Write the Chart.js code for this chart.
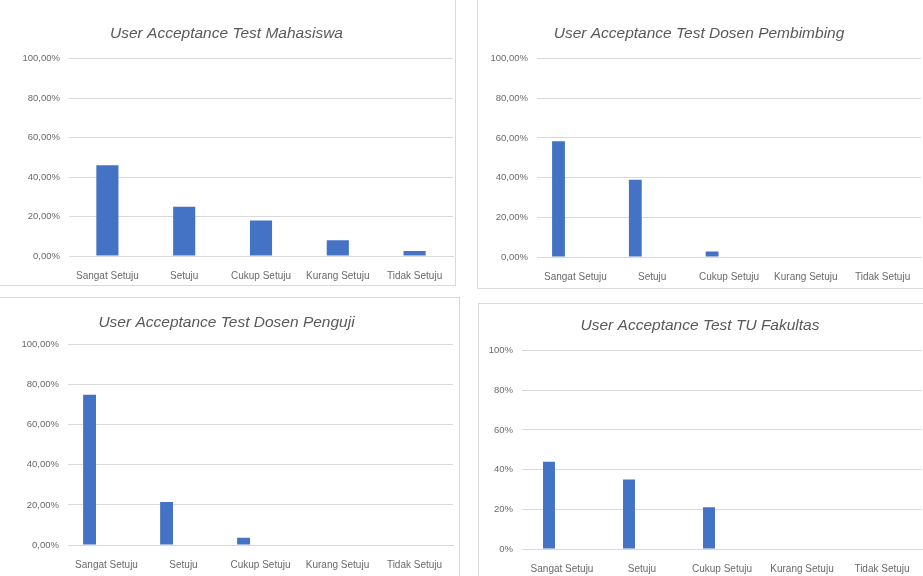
<!DOCTYPE html>
<html>
<head>
<meta charset="utf-8">
<script src="https://cdn.jsdelivr.net/npm/chart.js@4.4.1/dist/chart.umd.min.js"></script>
<style>
  body { margin: 0; background: #fff; width: 923px; height: 576px; overflow: hidden; position: relative; }
  .box { position: absolute; border: 1px solid #d9d9d9; box-sizing: border-box; }
  canvas { position: absolute; }
</style>
</head>
<body>
<div class="box" style="left:-1px;top:-1px;width:457px;height:287px;"></div>
<div class="box" style="left:477px;top:-1px;width:450px;height:290px;"></div>
<div class="box" style="left:-1px;top:297px;width:461px;height:283px;"></div>
<div class="box" style="left:478px;top:303px;width:450px;height:277px;"></div>

<canvas id="chartMahasiswa" width="456" height="286" style="left:0;top:0;"></canvas>
<canvas id="chartPembimbing" width="446" height="289" style="left:477px;top:0;"></canvas>
<canvas id="chartPenguji" width="460" height="279" style="left:0;top:297px;"></canvas>
<canvas id="chartTU" width="445" height="273" style="left:478px;top:303px;"></canvas>

<script>
// data (percent of respondents)
const categories = ['Sangat Setuju', 'Setuju', 'Cukup Setuju', 'Kurang Setuju', 'Tidak Setuju'];
const mahasiswa = [46, 25, 18, 8, 2.5];
const dosenPembimbing = [58.33, 38.89, 2.78, 0, 0];
const dosenPenguji = [75, 21.43, 3.57, 0, 0];
const tuFakultas = [44, 35, 21, 0, 0];

// tick labels, bottom to top
const pctLabels = ['0,00%', '20,00%', '40,00%', '60,00%', '80,00%', '100,00%'];
const pctLabelsShort = ['0%', '20%', '40%', '60%', '80%', '100%'];

Chart.defaults.font.family = "'Liberation Sans', Arial, sans-serif";
Chart.defaults.color = '#6a6a6a';

/**
 * Build one Excel-like column chart
 */
function drawChart(canvasId, title, values, opt){
    let datasets = [{
        data: values,
        backgroundColor: '#4472C4',
        borderWidth: 0,
        barPercentage: opt.barPct,
        categoryPercentage: opt.catPct
    }];
    // the source sheets had an extra (empty) series, which pushes the bars left of the label
    if (opt.emptySeries) {
        datasets.push({
            data: [],
            backgroundColor: '#ED7D31',
            barPercentage: opt.barPct,
            categoryPercentage: opt.catPct
        });
    }

    new Chart(document.getElementById(canvasId), {
        type: 'bar',
        data: { labels: categories, datasets: datasets },
        options: {
            responsive: false,
            animation: false,
            devicePixelRatio: 1,
            layout: { padding: { left: 0, right: opt.padRight, top: 0, bottom: 0 } },
            plugins: {
                legend: { display: false },
                tooltip: { enabled: false },
                title: {
                    display: true,
                    text: title,
                    color: '#595959',
                    font: { size: 15.5, style: 'italic', weight: 'normal' },
                    padding: { top: opt.titleTop, bottom: opt.titleBottom }
                }
            },
            scales: {
                x: {
                    grid: { display: false },
                    border: { color: '#d9d9d9' },
                    ticks: { font: { size: 10 }, padding: 6, maxRotation: 0, autoSkip: false },
                    afterFit: function(scale){ scale.height = opt.xHeight; }
                },
                y: {
                    min: 0,
                    max: 100,
                    grid: { color: '#d9d9d9', drawTicks: false },
                    border: { display: false },
                    ticks: {
                        stepSize: 20,
                        padding: 9,
                        font: { size: 9.5 },
                        callback: function(value, index){ return opt.tickLabels[index]; }
                    },
                    afterFit: function(scale){ scale.width = opt.yWidth; }
                }
            }
        }
    });
}

drawChart('chartMahasiswa', 'User Acceptance Test Mahasiswa', mahasiswa, {
    barPct: 0.36, catPct: 0.8, emptySeries: false, padRight: 3,
    titleTop: 24, titleBottom: 16, xHeight: 30, yWidth: 69, tickLabels: pctLabels
});
drawChart('chartPembimbing', 'User Acceptance Test Dosen Pembimbing', dosenPembimbing, {
    barPct: 0.38, catPct: 0.88, emptySeries: true, padRight: 2,
    titleTop: 24, titleBottom: 16, xHeight: 32, yWidth: 60, tickLabels: pctLabels
});
drawChart('chartPenguji', 'User Acceptance Test Dosen Penguji', dosenPenguji, {
    barPct: 0.38, catPct: 0.88, emptySeries: true, padRight: 7,
    titleTop: 16, titleBottom: 13, xHeight: 31, yWidth: 68, tickLabels: pctLabels
});
drawChart('chartTU', 'User Acceptance Test TU Fakultas', tuFakultas, {
    barPct: 0.46, catPct: 0.65, emptySeries: true, padRight: 1,
    titleTop: 13, titleBottom: 16, xHeight: 27, yWidth: 44, tickLabels: pctLabelsShort
});
</script>
</body>
</html>
